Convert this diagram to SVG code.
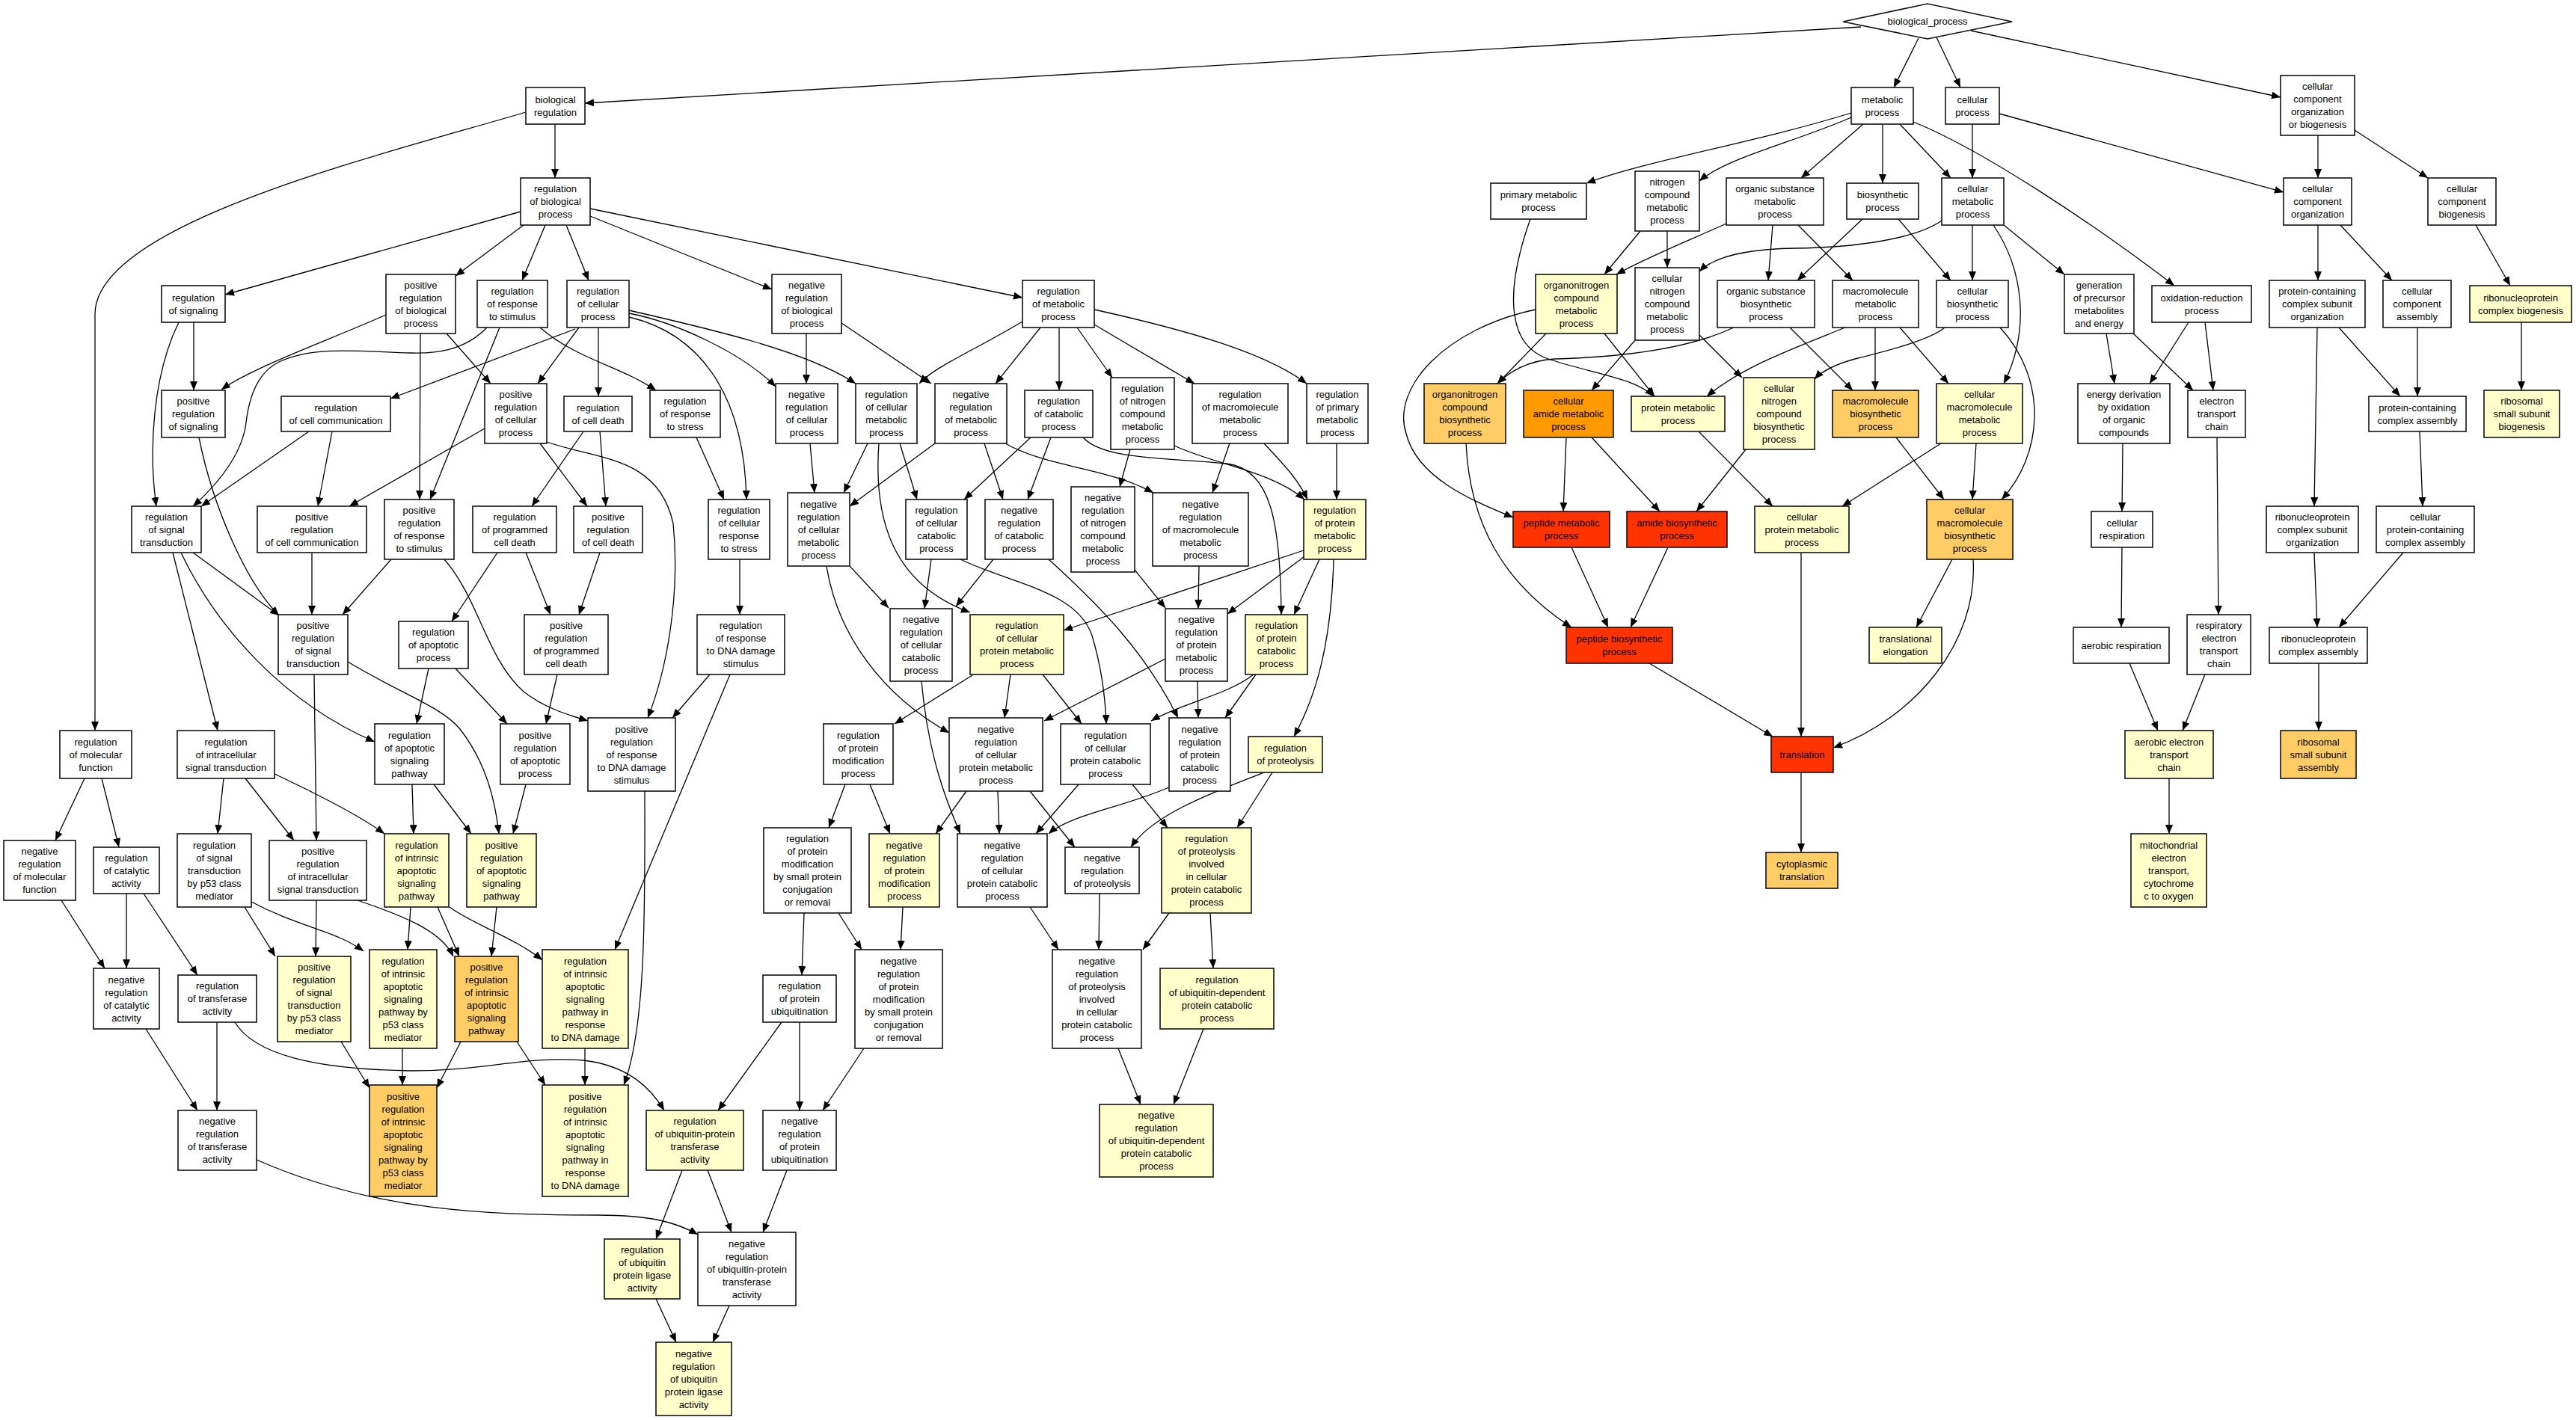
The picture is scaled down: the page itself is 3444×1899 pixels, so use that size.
<svg xmlns="http://www.w3.org/2000/svg" width="3444" height="1899" viewBox="0 0 3444 1899">
<style>
.nd rect,.nd polygon{stroke:#111;stroke-width:1.6}
.w{fill:#fff}.y{fill:#ffffcc}.o{fill:#ffcc66}.d{fill:#ff9900}.r{fill:#ff3300}
text{font-family:"Liberation Sans",Arial,sans-serif;font-size:13px;text-anchor:middle;fill:#000}
#edges path{fill:none;stroke:#000;stroke-width:1.3;marker-end:url(#ah)}
</style>
<defs>
<marker id="ah" markerUnits="userSpaceOnUse" markerWidth="12" markerHeight="10" refX="12" refY="5" orient="auto"><path d="M0,0 L12,5 L0,10 z" fill="#000"/></marker>
</defs>
<rect width="3444" height="1899" fill="#fff"/>
<g id="edges">
<path d="M2488,36 L782,138"/>
<path d="M2565,51 L2532,117"/>
<path d="M2589,50 L2621,117"/>
<path d="M2635,41 L3049,130"/>
<path d="M742,166 L742,238"/>
<path d="M703,150 C500,210 127,300 127,420 L127,977"/>
<path d="M696,283 L301,394"/>
<path d="M700,301 L609,369"/>
<path d="M729,301 L698,375"/>
<path d="M757,301 L787,375"/>
<path d="M789,289 L1032,387"/>
<path d="M789,279 L1367,398"/>
<path d="M259,431 L259,522"/>
<path d="M239,431 C205,500 198,600 209,677"/>
<path d="M516,421 C440,455 340,490 296,521"/>
<path d="M597,446 L656,513"/>
<path d="M562,446 L561,668"/>
<path d="M668,438 L575,668"/>
<path d="M651,438 C620,470 580,473 549,472 C480,470 420,462 373,484 C340,500 332,540 329,565 C325,600 300,640 258,677"/>
<path d="M722,438 C770,480 830,490 877,522"/>
<path d="M769,440 L522,533"/>
<path d="M774,438 L719,513"/>
<path d="M800,438 L800,530"/>
<path d="M841,419 C900,430 990,470 1037,517"/>
<path d="M841,415 C950,440 1080,470 1144,513"/>
<path d="M841,424 C930,445 995,520 998,668"/>
<path d="M1078,446 L1078,513"/>
<path d="M1125,432 L1245,513"/>
<path d="M1367,430 C1300,470 1250,490 1229,513"/>
<path d="M1391,438 L1331,513"/>
<path d="M1416,438 L1416,522"/>
<path d="M1440,438 L1487,505"/>
<path d="M1463,434 L1597,513"/>
<path d="M1463,414 C1580,440 1690,470 1747,513"/>
<path d="M2475,151 C2350,190 2200,215 2121,245"/>
<path d="M2475,157 C2400,190 2310,210 2272,242"/>
<path d="M2491,166 L2408,238"/>
<path d="M2517,166 L2517,245"/>
<path d="M2540,166 L2608,238"/>
<path d="M2558,163 C2650,200 2800,300 2907,382"/>
<path d="M2637,166 L2637,238"/>
<path d="M2673,152 L3053,257"/>
<path d="M3099,181 L3099,238"/>
<path d="M3148,174 L3246,238"/>
<path d="M2193,309 L2145,367"/>
<path d="M2229,309 L2229,358"/>
<path d="M2308,299 C2250,325 2200,345 2161,367"/>
<path d="M2370,301 L2364,375"/>
<path d="M2404,301 L2477,375"/>
<path d="M2490,293 L2403,375"/>
<path d="M2538,293 L2608,375"/>
<path d="M2637,301 L2637,375"/>
<path d="M2596,295 C2560,320 2480,331 2400,332 C2330,333 2290,345 2272,363"/>
<path d="M2665,301 C2705,360 2715,440 2679,513"/>
<path d="M2679,301 L2760,367"/>
<path d="M2067,446 L2002,513"/>
<path d="M2145,446 L2212,530"/>
<path d="M2053,414 C1930,440 1860,520 1880,580 C1895,640 1970,670 2023,692"/>
<path d="M2046,293 C2015,380 2010,460 2070,480 C2130,500 2185,505 2211,530"/>
<path d="M2186,455 L2128,522"/>
<path d="M2272,448 L2329,505"/>
<path d="M2318,438 C2250,470 2150,478 2079,480 C2040,482 2015,500 2002,513"/>
<path d="M2393,438 L2477,522"/>
<path d="M2467,438 C2400,465 2330,490 2282,530"/>
<path d="M2507,438 L2507,522"/>
<path d="M2540,438 L2605,513"/>
<path d="M2600,438 C2580,455 2520,470 2480,480 C2455,487 2435,497 2426,507"/>
<path d="M2674,438 C2740,510 2730,610 2676,668"/>
<path d="M2816,446 L2827,513"/>
<path d="M2852,446 L2932,522"/>
<path d="M2926,431 L2874,513"/>
<path d="M2948,431 L2959,522"/>
<path d="M3099,301 L3099,375"/>
<path d="M3129,301 L3198,375"/>
<path d="M3310,301 L3356,382"/>
<path d="M3127,438 L3209,530"/>
<path d="M3232,438 L3232,530"/>
<path d="M3371,431 L3371,522"/>
<path d="M1960,593 C1965,700 2010,780 2101,839"/>
<path d="M2094,585 L2090,684"/>
<path d="M2128,585 L2219,684"/>
<path d="M2271,577 L2370,677"/>
<path d="M2334,601 L2268,684"/>
<path d="M2535,585 L2599,668"/>
<path d="M2642,593 L2637,668"/>
<path d="M2595,593 L2463,677"/>
<path d="M2838,593 L2837,684"/>
<path d="M2964,585 L2966,822"/>
<path d="M3098,438 L3094,677"/>
<path d="M3235,577 L3239,677"/>
<path d="M2101,732 L2150,839"/>
<path d="M2230,732 L2180,839"/>
<path d="M2408,739 L2408,985"/>
<path d="M2610,748 L2562,839"/>
<path d="M2638,748 C2645,860 2560,960 2451,1000"/>
<path d="M2205,887 L2370,985"/>
<path d="M2408,1033 L2408,1140"/>
<path d="M2837,732 L2836,839"/>
<path d="M2847,887 L2885,977"/>
<path d="M2948,902 L2918,977"/>
<path d="M3094,739 L3098,839"/>
<path d="M3213,739 L3127,839"/>
<path d="M3100,887 L3100,977"/>
<path d="M2900,1041 L2900,1115"/>
<path d="M444,577 L425,677"/>
<path d="M413,577 L269,677"/>
<path d="M648,573 L467,677"/>
<path d="M722,593 L785,677"/>
<path d="M731,591 C800,615 880,610 900,700 C910,800 890,900 866,960"/>
<path d="M780,577 L711,677"/>
<path d="M802,577 L810,677"/>
<path d="M258,739 L373,823"/>
<path d="M231,739 L291,977"/>
<path d="M242,739 C290,840 380,940 501,992"/>
<path d="M266,585 C285,680 330,780 373,823"/>
<path d="M417,739 L417,822"/>
<path d="M523,748 L458,822"/>
<path d="M594,748 C640,800 650,880 700,925 C730,948 760,956 786,964"/>
<path d="M665,739 L604,831"/>
<path d="M703,739 L736,822"/>
<path d="M802,739 L774,822"/>
<path d="M465,885 C540,930 590,945 615,975 C650,1020 662,1070 667,1115"/>
<path d="M420,902 L423,1124"/>
<path d="M573,894 L557,968"/>
<path d="M609,894 L678,968"/>
<path d="M745,902 L730,968"/>
<path d="M113,1041 L74,1124"/>
<path d="M136,1041 L159,1133"/>
<path d="M299,1041 L291,1115"/>
<path d="M328,1041 L393,1124"/>
<path d="M367,1035 C420,1060 480,1090 514,1115"/>
<path d="M551,1049 L553,1115"/>
<path d="M580,1049 L630,1115"/>
<path d="M703,1049 L686,1115"/>
<path d="M949,902 L899,960"/>
<path d="M976,902 L822,1270"/>
<path d="M862,1058 C862,1200 865,1370 834,1451"/>
<path d="M82,1204 L140,1295"/>
<path d="M169,1195 L169,1295"/>
<path d="M192,1195 L264,1304"/>
<path d="M195,1376 L264,1485"/>
<path d="M290,1367 L290,1485"/>
<path d="M314,1367 C340,1410 420,1430 549,1432 C650,1432 700,1412 780,1418 C840,1425 870,1455 888,1485"/>
<path d="M343,1551 C500,1620 650,1625 800,1625 C870,1625 905,1635 933,1651"/>
<path d="M327,1213 L368,1279"/>
<path d="M423,1204 L422,1279"/>
<path d="M336,1206 C400,1240 450,1245 486,1272"/>
<path d="M478,1204 C540,1225 590,1245 606,1279"/>
<path d="M549,1213 L545,1270"/>
<path d="M585,1213 L614,1279"/>
<path d="M601,1213 C630,1235 690,1255 725,1284"/>
<path d="M664,1213 L657,1279"/>
<path d="M456,1393 L494,1455"/>
<path d="M538,1402 L538,1451"/>
<path d="M616,1393 L584,1455"/>
<path d="M691,1393 L729,1451"/>
<path d="M782,1402 L782,1451"/>
<path d="M1083,593 L1089,659"/>
<path d="M1160,593 L1128,659"/>
<path d="M1250,593 L1136,677"/>
<path d="M1203,593 L1226,668"/>
<path d="M1175,593 C1168,690 1190,780 1297,819"/>
<path d="M1378,585 L1289,668"/>
<path d="M1405,585 L1374,668"/>
<path d="M1316,593 L1341,668"/>
<path d="M1448,585 C1475,615 1560,612 1640,620 C1700,628 1712,700 1713,822"/>
<path d="M1511,601 L1497,651"/>
<path d="M1344,593 C1400,625 1480,625 1542,659"/>
<path d="M1644,593 L1621,659"/>
<path d="M1570,596 C1620,620 1700,630 1744,668"/>
<path d="M1690,593 C1715,620 1735,640 1748,668"/>
<path d="M1787,593 L1787,668"/>
<path d="M989,748 L989,822"/>
<path d="M931,585 L968,668"/>
<path d="M1136,757 L1188,813"/>
<path d="M1105,757 C1120,850 1180,930 1269,980"/>
<path d="M1245,748 L1236,814"/>
<path d="M1284,748 C1350,780 1440,790 1460,850 C1475,900 1478,940 1479,968"/>
<path d="M1328,748 L1278,811"/>
<path d="M1402,748 C1470,810 1530,870 1575,960"/>
<path d="M1517,762 L1558,813"/>
<path d="M1603,757 L1602,814"/>
<path d="M1743,736 L1422,843"/>
<path d="M1743,745 L1641,821"/>
<path d="M1764,748 L1730,822"/>
<path d="M1783,748 C1780,860 1760,930 1730,985"/>
<path d="M1300,903 L1196,968"/>
<path d="M1351,902 L1343,960"/>
<path d="M1394,902 L1446,968"/>
<path d="M1558,881 L1396,964"/>
<path d="M1601,911 L1602,960"/>
<path d="M1676,902 C1640,930 1580,940 1539,964"/>
<path d="M1679,902 L1638,960"/>
<path d="M1130,1049 L1108,1107"/>
<path d="M1163,1049 L1190,1115"/>
<path d="M1292,1058 L1251,1115"/>
<path d="M1334,1058 L1336,1115"/>
<path d="M1377,1058 L1437,1133"/>
<path d="M1232,911 C1240,1000 1260,1060 1284,1115"/>
<path d="M1442,1049 L1385,1115"/>
<path d="M1514,1049 L1561,1107"/>
<path d="M1563,1053 C1500,1080 1430,1090 1402,1115"/>
<path d="M1690,1033 C1620,1060 1540,1090 1512,1133"/>
<path d="M1701,1033 L1654,1107"/>
<path d="M1075,1221 L1072,1304"/>
<path d="M1121,1221 L1152,1270"/>
<path d="M1207,1213 L1204,1270"/>
<path d="M1377,1213 L1415,1270"/>
<path d="M1470,1195 L1469,1270"/>
<path d="M1563,1221 L1528,1270"/>
<path d="M1618,1221 L1622,1295"/>
<path d="M1045,1367 L960,1485"/>
<path d="M1069,1367 L1069,1485"/>
<path d="M1155,1402 L1100,1485"/>
<path d="M1495,1402 L1525,1477"/>
<path d="M1609,1376 L1569,1477"/>
<path d="M912,1565 L877,1657"/>
<path d="M946,1565 L978,1648"/>
<path d="M1052,1565 L1020,1648"/>
<path d="M877,1737 L904,1795"/>
<path d="M975,1746 L953,1795"/>
</g>
<g id="bp" class="nd"><polygon class="w" points="2464,29 2577,5 2690,29 2577,52"/><text x="2577" y="33">biological_process</text></g>
<g id="breg" class="nd"><rect class="w" x="703" y="117" width="79" height="49"/><text y="137.5"><tspan x="742.5">biological</tspan><tspan x="742.5" dy="17">regulation</tspan></text></g>
<g id="rbp" class="nd"><rect class="w" x="696" y="238" width="93" height="63"/><text y="257"><tspan x="742.5">regulation</tspan><tspan x="742.5" dy="17">of biological</tspan><tspan x="742.5" dy="17">process</tspan></text></g>
<g id="rsig" class="nd"><rect class="w" x="216" y="382" width="85" height="49"/><text y="402.5"><tspan x="258.5">regulation</tspan><tspan x="258.5" dy="17">of signaling</tspan></text></g>
<g id="prbp" class="nd"><rect class="w" x="516" y="367" width="93" height="79"/><text y="385.5"><tspan x="562.5">positive</tspan><tspan x="562.5" dy="17">regulation</tspan><tspan x="562.5" dy="17">of biological</tspan><tspan x="562.5" dy="17">process</tspan></text></g>
<g id="rrstim" class="nd"><rect class="w" x="638" y="375" width="94" height="63"/><text y="394"><tspan x="685">regulation</tspan><tspan x="685" dy="17">of response</tspan><tspan x="685" dy="17">to stimulus</tspan></text></g>
<g id="rcp" class="nd"><rect class="w" x="758" y="375" width="83" height="63"/><text y="394"><tspan x="799.5">regulation</tspan><tspan x="799.5" dy="17">of cellular</tspan><tspan x="799.5" dy="17">process</tspan></text></g>
<g id="nrbp" class="nd"><rect class="w" x="1032" y="367" width="93" height="79"/><text y="385.5"><tspan x="1078.5">negative</tspan><tspan x="1078.5" dy="17">regulation</tspan><tspan x="1078.5" dy="17">of biological</tspan><tspan x="1078.5" dy="17">process</tspan></text></g>
<g id="rmp" class="nd"><rect class="w" x="1367" y="375" width="96" height="63"/><text y="394"><tspan x="1415">regulation</tspan><tspan x="1415" dy="17">of metabolic</tspan><tspan x="1415" dy="17">process</tspan></text></g>
<g id="prsig" class="nd"><rect class="w" x="216" y="522" width="85" height="63"/><text y="541"><tspan x="258.5">positive</tspan><tspan x="258.5" dy="17">regulation</tspan><tspan x="258.5" dy="17">of signaling</tspan></text></g>
<g id="rcc" class="nd"><rect class="w" x="376" y="530" width="146" height="47"/><text y="549.5"><tspan x="449">regulation</tspan><tspan x="449" dy="17">of cell communication</tspan></text></g>
<g id="prcp" class="nd"><rect class="w" x="648" y="513" width="83" height="80"/><text y="532"><tspan x="689.5">positive</tspan><tspan x="689.5" dy="17">regulation</tspan><tspan x="689.5" dy="17">of cellular</tspan><tspan x="689.5" dy="17">process</tspan></text></g>
<g id="rcd" class="nd"><rect class="w" x="754" y="530" width="91" height="47"/><text y="549.5"><tspan x="799.5">regulation</tspan><tspan x="799.5" dy="17">of cell death</tspan></text></g>
<g id="rrstress" class="nd"><rect class="w" x="869" y="522" width="94" height="63"/><text y="541"><tspan x="916">regulation</tspan><tspan x="916" dy="17">of response</tspan><tspan x="916" dy="17">to stress</tspan></text></g>
<g id="nrcp" class="nd"><rect class="w" x="1037" y="513" width="83" height="80"/><text y="532"><tspan x="1078.5">negative</tspan><tspan x="1078.5" dy="17">regulation</tspan><tspan x="1078.5" dy="17">of cellular</tspan><tspan x="1078.5" dy="17">process</tspan></text></g>
<g id="rcmp" class="nd"><rect class="w" x="1144" y="513" width="82" height="80"/><text y="532"><tspan x="1185">regulation</tspan><tspan x="1185" dy="17">of cellular</tspan><tspan x="1185" dy="17">metabolic</tspan><tspan x="1185" dy="17">process</tspan></text></g>
<g id="nrmp" class="nd"><rect class="w" x="1250" y="513" width="96" height="80"/><text y="532"><tspan x="1298">negative</tspan><tspan x="1298" dy="17">regulation</tspan><tspan x="1298" dy="17">of metabolic</tspan><tspan x="1298" dy="17">process</tspan></text></g>
<g id="rcatp" class="nd"><rect class="w" x="1370" y="522" width="91" height="63"/><text y="541"><tspan x="1415.5">regulation</tspan><tspan x="1415.5" dy="17">of catabolic</tspan><tspan x="1415.5" dy="17">process</tspan></text></g>
<g id="rncmp" class="nd"><rect class="w" x="1485" y="505" width="85" height="96"/><text y="523.5"><tspan x="1527.5">regulation</tspan><tspan x="1527.5" dy="17">of nitrogen</tspan><tspan x="1527.5" dy="17">compound</tspan><tspan x="1527.5" dy="17">metabolic</tspan><tspan x="1527.5" dy="17">process</tspan></text></g>
<g id="rmacmp" class="nd"><rect class="w" x="1594" y="513" width="128" height="80"/><text y="532"><tspan x="1658">regulation</tspan><tspan x="1658" dy="17">of macromolecule</tspan><tspan x="1658" dy="17">metabolic</tspan><tspan x="1658" dy="17">process</tspan></text></g>
<g id="rprimmp" class="nd"><rect class="w" x="1747" y="513" width="82" height="80"/><text y="532"><tspan x="1788">regulation</tspan><tspan x="1788" dy="17">of primary</tspan><tspan x="1788" dy="17">metabolic</tspan><tspan x="1788" dy="17">process</tspan></text></g>
<g id="mp" class="nd"><rect class="w" x="2475" y="117" width="83" height="49"/><text y="137.5"><tspan x="2516.5">metabolic</tspan><tspan x="2516.5" dy="17">process</tspan></text></g>
<g id="cp" class="nd"><rect class="w" x="2601" y="117" width="72" height="49"/><text y="137.5"><tspan x="2637">cellular</tspan><tspan x="2637" dy="17">process</tspan></text></g>
<g id="ccob" class="nd"><rect class="w" x="3049" y="101" width="99" height="80"/><text y="120"><tspan x="3098.5">cellular</tspan><tspan x="3098.5" dy="17">component</tspan><tspan x="3098.5" dy="17">organization</tspan><tspan x="3098.5" dy="17">or biogenesis</tspan></text></g>
<g id="primmp" class="nd"><rect class="w" x="1993" y="245" width="128" height="48"/><text y="265"><tspan x="2057">primary metabolic</tspan><tspan x="2057" dy="17">process</tspan></text></g>
<g id="ncmp" class="nd"><rect class="w" x="2186" y="229" width="86" height="80"/><text y="248"><tspan x="2229">nitrogen</tspan><tspan x="2229" dy="17">compound</tspan><tspan x="2229" dy="17">metabolic</tspan><tspan x="2229" dy="17">process</tspan></text></g>
<g id="osmp" class="nd"><rect class="w" x="2308" y="238" width="130" height="63"/><text y="257"><tspan x="2373">organic substance</tspan><tspan x="2373" dy="17">metabolic</tspan><tspan x="2373" dy="17">process</tspan></text></g>
<g id="bsp" class="nd"><rect class="w" x="2469" y="245" width="96" height="48"/><text y="265"><tspan x="2517">biosynthetic</tspan><tspan x="2517" dy="17">process</tspan></text></g>
<g id="cmp" class="nd"><rect class="w" x="2596" y="238" width="83" height="63"/><text y="257"><tspan x="2637.5">cellular</tspan><tspan x="2637.5" dy="17">metabolic</tspan><tspan x="2637.5" dy="17">process</tspan></text></g>
<g id="cco" class="nd"><rect class="w" x="3053" y="238" width="91" height="63"/><text y="257"><tspan x="3098.5">cellular</tspan><tspan x="3098.5" dy="17">component</tspan><tspan x="3098.5" dy="17">organization</tspan></text></g>
<g id="ccb" class="nd"><rect class="w" x="3246" y="238" width="91" height="63"/><text y="257"><tspan x="3291.5">cellular</tspan><tspan x="3291.5" dy="17">component</tspan><tspan x="3291.5" dy="17">biogenesis</tspan></text></g>
<g id="oncmp" class="nd"><rect class="y" x="2053" y="367" width="109" height="79"/><text y="385.5"><tspan x="2107.5">organonitrogen</tspan><tspan x="2107.5" dy="17">compound</tspan><tspan x="2107.5" dy="17">metabolic</tspan><tspan x="2107.5" dy="17">process</tspan></text></g>
<g id="cncmp" class="nd"><rect class="w" x="2186" y="358" width="86" height="97"/><text y="377"><tspan x="2229">cellular</tspan><tspan x="2229" dy="17">nitrogen</tspan><tspan x="2229" dy="17">compound</tspan><tspan x="2229" dy="17">metabolic</tspan><tspan x="2229" dy="17">process</tspan></text></g>
<g id="osbp" class="nd"><rect class="w" x="2296" y="375" width="130" height="63"/><text y="394"><tspan x="2361">organic substance</tspan><tspan x="2361" dy="17">biosynthetic</tspan><tspan x="2361" dy="17">process</tspan></text></g>
<g id="macmp" class="nd"><rect class="w" x="2450" y="375" width="115" height="63"/><text y="394"><tspan x="2507.5">macromolecule</tspan><tspan x="2507.5" dy="17">metabolic</tspan><tspan x="2507.5" dy="17">process</tspan></text></g>
<g id="cbp" class="nd"><rect class="w" x="2589" y="375" width="96" height="63"/><text y="394"><tspan x="2637">cellular</tspan><tspan x="2637" dy="17">biosynthetic</tspan><tspan x="2637" dy="17">process</tspan></text></g>
<g id="gpme" class="nd"><rect class="w" x="2760" y="367" width="93" height="79"/><text y="385.5"><tspan x="2806.5">generation</tspan><tspan x="2806.5" dy="17">of precursor</tspan><tspan x="2806.5" dy="17">metabolites</tspan><tspan x="2806.5" dy="17">and energy</tspan></text></g>
<g id="orp" class="nd"><rect class="w" x="2877" y="382" width="133" height="49"/><text y="402.5"><tspan x="2943.5">oxidation-reduction</tspan><tspan x="2943.5" dy="17">process</tspan></text></g>
<g id="pccso" class="nd"><rect class="w" x="3034" y="375" width="128" height="63"/><text y="394"><tspan x="3098">protein-containing</tspan><tspan x="3098" dy="17">complex subunit</tspan><tspan x="3098" dy="17">organization</tspan></text></g>
<g id="cca" class="nd"><rect class="w" x="3186" y="375" width="91" height="63"/><text y="394"><tspan x="3231.5">cellular</tspan><tspan x="3231.5" dy="17">component</tspan><tspan x="3231.5" dy="17">assembly</tspan></text></g>
<g id="rnpcb" class="nd"><rect class="y" x="3302" y="382" width="136" height="49"/><text y="402.5"><tspan x="3370">ribonucleoprotein</tspan><tspan x="3370" dy="17">complex biogenesis</tspan></text></g>
<g id="oncbp" class="nd"><rect class="o" x="1904" y="513" width="109" height="80"/><text y="532"><tspan x="1958.5">organonitrogen</tspan><tspan x="1958.5" dy="17">compound</tspan><tspan x="1958.5" dy="17">biosynthetic</tspan><tspan x="1958.5" dy="17">process</tspan></text></g>
<g id="camp" class="nd"><rect class="d" x="2037" y="522" width="120" height="63"/><text y="541"><tspan x="2097">cellular</tspan><tspan x="2097" dy="17">amide metabolic</tspan><tspan x="2097" dy="17">process</tspan></text></g>
<g id="protmp" class="nd"><rect class="y" x="2181" y="530" width="125" height="47"/><text y="549.5"><tspan x="2243.5">protein metabolic</tspan><tspan x="2243.5" dy="17">process</tspan></text></g>
<g id="cncbp" class="nd"><rect class="y" x="2331" y="505" width="95" height="96"/><text y="523.5"><tspan x="2378.5">cellular</tspan><tspan x="2378.5" dy="17">nitrogen</tspan><tspan x="2378.5" dy="17">compound</tspan><tspan x="2378.5" dy="17">biosynthetic</tspan><tspan x="2378.5" dy="17">process</tspan></text></g>
<g id="macbp" class="nd"><rect class="o" x="2450" y="522" width="115" height="63"/><text y="541"><tspan x="2507.5">macromolecule</tspan><tspan x="2507.5" dy="17">biosynthetic</tspan><tspan x="2507.5" dy="17">process</tspan></text></g>
<g id="cmacmp" class="nd"><rect class="y" x="2589" y="513" width="115" height="80"/><text y="532"><tspan x="2646.5">cellular</tspan><tspan x="2646.5" dy="17">macromolecule</tspan><tspan x="2646.5" dy="17">metabolic</tspan><tspan x="2646.5" dy="17">process</tspan></text></g>
<g id="edooc" class="nd"><rect class="w" x="2778" y="513" width="123" height="80"/><text y="532"><tspan x="2839.5">energy derivation</tspan><tspan x="2839.5" dy="17">by oxidation</tspan><tspan x="2839.5" dy="17">of organic</tspan><tspan x="2839.5" dy="17">compounds</tspan></text></g>
<g id="etc" class="nd"><rect class="w" x="2925" y="522" width="77" height="63"/><text y="541"><tspan x="2963.5">electron</tspan><tspan x="2963.5" dy="17">transport</tspan><tspan x="2963.5" dy="17">chain</tspan></text></g>
<g id="pcca" class="nd"><rect class="w" x="3167" y="530" width="130" height="47"/><text y="549.5"><tspan x="3232">protein-containing</tspan><tspan x="3232" dy="17">complex assembly</tspan></text></g>
<g id="rssb" class="nd"><rect class="y" x="3321" y="522" width="101" height="63"/><text y="541"><tspan x="3371.5">ribosomal</tspan><tspan x="3371.5" dy="17">small subunit</tspan><tspan x="3371.5" dy="17">biogenesis</tspan></text></g>
<g id="rst" class="nd"><rect class="w" x="176" y="677" width="93" height="62"/><text y="695.5"><tspan x="222.5">regulation</tspan><tspan x="222.5" dy="17">of signal</tspan><tspan x="222.5" dy="17">transduction</tspan></text></g>
<g id="prcc" class="nd"><rect class="w" x="344" y="677" width="146" height="62"/><text y="695.5"><tspan x="417">positive</tspan><tspan x="417" dy="17">regulation</tspan><tspan x="417" dy="17">of cell communication</tspan></text></g>
<g id="prrstim" class="nd"><rect class="w" x="514" y="668" width="93" height="80"/><text y="687"><tspan x="560.5">positive</tspan><tspan x="560.5" dy="17">regulation</tspan><tspan x="560.5" dy="17">of response</tspan><tspan x="560.5" dy="17">to stimulus</tspan></text></g>
<g id="rpcd" class="nd"><rect class="w" x="632" y="677" width="112" height="62"/><text y="695.5"><tspan x="688">regulation</tspan><tspan x="688" dy="17">of programmed</tspan><tspan x="688" dy="17">cell death</tspan></text></g>
<g id="prcd" class="nd"><rect class="w" x="767" y="677" width="92" height="62"/><text y="695.5"><tspan x="813">positive</tspan><tspan x="813" dy="17">regulation</tspan><tspan x="813" dy="17">of cell death</tspan></text></g>
<g id="rcrs" class="nd"><rect class="w" x="947" y="668" width="82" height="80"/><text y="687"><tspan x="988">regulation</tspan><tspan x="988" dy="17">of cellular</tspan><tspan x="988" dy="17">response</tspan><tspan x="988" dy="17">to stress</tspan></text></g>
<g id="nrcmp" class="nd"><rect class="w" x="1053" y="659" width="83" height="98"/><text y="678.5"><tspan x="1094.5">negative</tspan><tspan x="1094.5" dy="17">regulation</tspan><tspan x="1094.5" dy="17">of cellular</tspan><tspan x="1094.5" dy="17">metabolic</tspan><tspan x="1094.5" dy="17">process</tspan></text></g>
<g id="rccp" class="nd"><rect class="w" x="1211" y="668" width="82" height="80"/><text y="687"><tspan x="1252">regulation</tspan><tspan x="1252" dy="17">of cellular</tspan><tspan x="1252" dy="17">catabolic</tspan><tspan x="1252" dy="17">process</tspan></text></g>
<g id="nrcatp" class="nd"><rect class="w" x="1317" y="668" width="91" height="80"/><text y="687"><tspan x="1362.5">negative</tspan><tspan x="1362.5" dy="17">regulation</tspan><tspan x="1362.5" dy="17">of catabolic</tspan><tspan x="1362.5" dy="17">process</tspan></text></g>
<g id="nrncmp" class="nd"><rect class="w" x="1432" y="651" width="85" height="114"/><text y="670"><tspan x="1474.5">negative</tspan><tspan x="1474.5" dy="17">regulation</tspan><tspan x="1474.5" dy="17">of nitrogen</tspan><tspan x="1474.5" dy="17">compound</tspan><tspan x="1474.5" dy="17">metabolic</tspan><tspan x="1474.5" dy="17">process</tspan></text></g>
<g id="nrmacmp" class="nd"><rect class="w" x="1541" y="659" width="128" height="98"/><text y="678.5"><tspan x="1605">negative</tspan><tspan x="1605" dy="17">regulation</tspan><tspan x="1605" dy="17">of macromolecule</tspan><tspan x="1605" dy="17">metabolic</tspan><tspan x="1605" dy="17">process</tspan></text></g>
<g id="rpmp" class="nd"><rect class="y" x="1743" y="668" width="83" height="80"/><text y="687"><tspan x="1784.5">regulation</tspan><tspan x="1784.5" dy="17">of protein</tspan><tspan x="1784.5" dy="17">metabolic</tspan><tspan x="1784.5" dy="17">process</tspan></text></g>
<g id="pepmp" class="nd"><rect class="r" x="2023" y="684" width="129" height="48"/><text y="704"><tspan x="2087.5">peptide metabolic</tspan><tspan x="2087.5" dy="17">process</tspan></text></g>
<g id="amidebp" class="nd"><rect class="r" x="2175" y="684" width="134" height="48"/><text y="704"><tspan x="2242">amide biosynthetic</tspan><tspan x="2242" dy="17">process</tspan></text></g>
<g id="cpmp" class="nd"><rect class="y" x="2346" y="677" width="126" height="62"/><text y="695.5"><tspan x="2409">cellular</tspan><tspan x="2409" dy="17">protein metabolic</tspan><tspan x="2409" dy="17">process</tspan></text></g>
<g id="cmacbp" class="nd"><rect class="o" x="2576" y="668" width="115" height="80"/><text y="687"><tspan x="2633.5">cellular</tspan><tspan x="2633.5" dy="17">macromolecule</tspan><tspan x="2633.5" dy="17">biosynthetic</tspan><tspan x="2633.5" dy="17">process</tspan></text></g>
<g id="cresp" class="nd"><rect class="w" x="2796" y="684" width="82" height="48"/><text y="704"><tspan x="2837">cellular</tspan><tspan x="2837" dy="17">respiration</tspan></text></g>
<g id="rnpcso" class="nd"><rect class="w" x="3030" y="677" width="123" height="62"/><text y="695.5"><tspan x="3091.5">ribonucleoprotein</tspan><tspan x="3091.5" dy="17">complex subunit</tspan><tspan x="3091.5" dy="17">organization</tspan></text></g>
<g id="cpcca" class="nd"><rect class="w" x="3177" y="677" width="131" height="62"/><text y="695.5"><tspan x="3242.5">cellular</tspan><tspan x="3242.5" dy="17">protein-containing</tspan><tspan x="3242.5" dy="17">complex assembly</tspan></text></g>
<g id="prst" class="nd"><rect class="w" x="372" y="822" width="93" height="80"/><text y="841"><tspan x="418.5">positive</tspan><tspan x="418.5" dy="17">regulation</tspan><tspan x="418.5" dy="17">of signal</tspan><tspan x="418.5" dy="17">transduction</tspan></text></g>
<g id="rap" class="nd"><rect class="w" x="533" y="831" width="93" height="63"/><text y="850"><tspan x="579.5">regulation</tspan><tspan x="579.5" dy="17">of apoptotic</tspan><tspan x="579.5" dy="17">process</tspan></text></g>
<g id="prpcd" class="nd"><rect class="w" x="701" y="822" width="112" height="80"/><text y="841"><tspan x="757">positive</tspan><tspan x="757" dy="17">regulation</tspan><tspan x="757" dy="17">of programmed</tspan><tspan x="757" dy="17">cell death</tspan></text></g>
<g id="rrdds" class="nd"><rect class="w" x="932" y="822" width="117" height="80"/><text y="841"><tspan x="990.5">regulation</tspan><tspan x="990.5" dy="17">of response</tspan><tspan x="990.5" dy="17">to DNA damage</tspan><tspan x="990.5" dy="17">stimulus</tspan></text></g>
<g id="nrccp" class="nd"><rect class="w" x="1190" y="814" width="83" height="97"/><text y="833"><tspan x="1231.5">negative</tspan><tspan x="1231.5" dy="17">regulation</tspan><tspan x="1231.5" dy="17">of cellular</tspan><tspan x="1231.5" dy="17">catabolic</tspan><tspan x="1231.5" dy="17">process</tspan></text></g>
<g id="rcpmp" class="nd"><rect class="y" x="1297" y="822" width="125" height="80"/><text y="841"><tspan x="1359.5">regulation</tspan><tspan x="1359.5" dy="17">of cellular</tspan><tspan x="1359.5" dy="17">protein metabolic</tspan><tspan x="1359.5" dy="17">process</tspan></text></g>
<g id="nrpmp" class="nd"><rect class="w" x="1558" y="814" width="83" height="97"/><text y="833"><tspan x="1599.5">negative</tspan><tspan x="1599.5" dy="17">regulation</tspan><tspan x="1599.5" dy="17">of protein</tspan><tspan x="1599.5" dy="17">metabolic</tspan><tspan x="1599.5" dy="17">process</tspan></text></g>
<g id="rpcatp" class="nd"><rect class="y" x="1665" y="822" width="83" height="80"/><text y="841"><tspan x="1706.5">regulation</tspan><tspan x="1706.5" dy="17">of protein</tspan><tspan x="1706.5" dy="17">catabolic</tspan><tspan x="1706.5" dy="17">process</tspan></text></g>
<g id="pepbp" class="nd"><rect class="r" x="2094" y="839" width="142" height="48"/><text y="859"><tspan x="2165">peptide biosynthetic</tspan><tspan x="2165" dy="17">process</tspan></text></g>
<g id="transel" class="nd"><rect class="y" x="2499" y="839" width="97" height="48"/><text y="859"><tspan x="2547.5">translational</tspan><tspan x="2547.5" dy="17">elongation</tspan></text></g>
<g id="aresp" class="nd"><rect class="w" x="2772" y="839" width="128" height="48"/><text x="2836" y="867.5">aerobic respiration</text></g>
<g id="retc" class="nd"><rect class="w" x="2924" y="822" width="85" height="80"/><text y="841"><tspan x="2966.5">respiratory</tspan><tspan x="2966.5" dy="17">electron</tspan><tspan x="2966.5" dy="17">transport</tspan><tspan x="2966.5" dy="17">chain</tspan></text></g>
<g id="rnpca" class="nd"><rect class="w" x="3034" y="839" width="131" height="48"/><text y="859"><tspan x="3099.5">ribonucleoprotein</tspan><tspan x="3099.5" dy="17">complex assembly</tspan></text></g>
<g id="rmf" class="nd"><rect class="w" x="80" y="977" width="96" height="64"/><text y="996.5"><tspan x="128">regulation</tspan><tspan x="128" dy="17">of molecular</tspan><tspan x="128" dy="17">function</tspan></text></g>
<g id="rist" class="nd"><rect class="w" x="237" y="977" width="130" height="64"/><text y="996.5"><tspan x="302">regulation</tspan><tspan x="302" dy="17">of intracellular</tspan><tspan x="302" dy="17">signal transduction</tspan></text></g>
<g id="rasp" class="nd"><rect class="w" x="501" y="968" width="93" height="81"/><text y="987.5"><tspan x="547.5">regulation</tspan><tspan x="547.5" dy="17">of apoptotic</tspan><tspan x="547.5" dy="17">signaling</tspan><tspan x="547.5" dy="17">pathway</tspan></text></g>
<g id="prap" class="nd"><rect class="w" x="669" y="968" width="93" height="81"/><text y="987.5"><tspan x="715.5">positive</tspan><tspan x="715.5" dy="17">regulation</tspan><tspan x="715.5" dy="17">of apoptotic</tspan><tspan x="715.5" dy="17">process</tspan></text></g>
<g id="prrdds" class="nd"><rect class="w" x="786" y="960" width="117" height="98"/><text y="979.5"><tspan x="844.5">positive</tspan><tspan x="844.5" dy="17">regulation</tspan><tspan x="844.5" dy="17">of response</tspan><tspan x="844.5" dy="17">to DNA damage</tspan><tspan x="844.5" dy="17">stimulus</tspan></text></g>
<g id="rpmodp" class="nd"><rect class="w" x="1101" y="968" width="93" height="81"/><text y="987.5"><tspan x="1147.5">regulation</tspan><tspan x="1147.5" dy="17">of protein</tspan><tspan x="1147.5" dy="17">modification</tspan><tspan x="1147.5" dy="17">process</tspan></text></g>
<g id="nrcpmp" class="nd"><rect class="w" x="1269" y="960" width="125" height="98"/><text y="979.5"><tspan x="1331.5">negative</tspan><tspan x="1331.5" dy="17">regulation</tspan><tspan x="1331.5" dy="17">of cellular</tspan><tspan x="1331.5" dy="17">protein metabolic</tspan><tspan x="1331.5" dy="17">process</tspan></text></g>
<g id="rcpcp" class="nd"><rect class="w" x="1418" y="968" width="120" height="81"/><text y="987.5"><tspan x="1478">regulation</tspan><tspan x="1478" dy="17">of cellular</tspan><tspan x="1478" dy="17">protein catabolic</tspan><tspan x="1478" dy="17">process</tspan></text></g>
<g id="nrpcatp" class="nd"><rect class="w" x="1563" y="960" width="82" height="98"/><text y="979.5"><tspan x="1604">negative</tspan><tspan x="1604" dy="17">regulation</tspan><tspan x="1604" dy="17">of protein</tspan><tspan x="1604" dy="17">catabolic</tspan><tspan x="1604" dy="17">process</tspan></text></g>
<g id="rprot" class="nd"><rect class="y" x="1669" y="985" width="99" height="48"/><text y="1005"><tspan x="1718.5">regulation</tspan><tspan x="1718.5" dy="17">of proteolysis</tspan></text></g>
<g id="transl" class="nd"><rect class="r" x="2368" y="985" width="83" height="48"/><text x="2409.5" y="1013.5">translation</text></g>
<g id="aetc" class="nd"><rect class="y" x="2841" y="977" width="118" height="64"/><text y="996.5"><tspan x="2900">aerobic electron</tspan><tspan x="2900" dy="17">transport</tspan><tspan x="2900" dy="17">chain</tspan></text></g>
<g id="rssa" class="nd"><rect class="o" x="3049" y="977" width="101" height="64"/><text y="996.5"><tspan x="3099.5">ribosomal</tspan><tspan x="3099.5" dy="17">small subunit</tspan><tspan x="3099.5" dy="17">assembly</tspan></text></g>
<g id="nrmf" class="nd"><rect class="w" x="5" y="1124" width="96" height="80"/><text y="1143"><tspan x="53">negative</tspan><tspan x="53" dy="17">regulation</tspan><tspan x="53" dy="17">of molecular</tspan><tspan x="53" dy="17">function</tspan></text></g>
<g id="rca" class="nd"><rect class="w" x="125" y="1133" width="88" height="62"/><text y="1151.5"><tspan x="169">regulation</tspan><tspan x="169" dy="17">of catalytic</tspan><tspan x="169" dy="17">activity</tspan></text></g>
<g id="rstp53" class="nd"><rect class="w" x="237" y="1115" width="99" height="98"/><text y="1134.5"><tspan x="286.5">regulation</tspan><tspan x="286.5" dy="17">of signal</tspan><tspan x="286.5" dy="17">transduction</tspan><tspan x="286.5" dy="17">by p53 class</tspan><tspan x="286.5" dy="17">mediator</tspan></text></g>
<g id="prist" class="nd"><rect class="w" x="360" y="1124" width="130" height="80"/><text y="1143"><tspan x="425">positive</tspan><tspan x="425" dy="17">regulation</tspan><tspan x="425" dy="17">of intracellular</tspan><tspan x="425" dy="17">signal transduction</tspan></text></g>
<g id="riasp" class="nd"><rect class="y" x="514" y="1115" width="86" height="98"/><text y="1134.5"><tspan x="557">regulation</tspan><tspan x="557" dy="17">of intrinsic</tspan><tspan x="557" dy="17">apoptotic</tspan><tspan x="557" dy="17">signaling</tspan><tspan x="557" dy="17">pathway</tspan></text></g>
<g id="prasp" class="nd"><rect class="y" x="624" y="1115" width="93" height="98"/><text y="1134.5"><tspan x="670.5">positive</tspan><tspan x="670.5" dy="17">regulation</tspan><tspan x="670.5" dy="17">of apoptotic</tspan><tspan x="670.5" dy="17">signaling</tspan><tspan x="670.5" dy="17">pathway</tspan></text></g>
<g id="rpmspcr" class="nd"><rect class="w" x="1021" y="1107" width="117" height="114"/><text y="1126"><tspan x="1079.5">regulation</tspan><tspan x="1079.5" dy="17">of protein</tspan><tspan x="1079.5" dy="17">modification</tspan><tspan x="1079.5" dy="17">by small protein</tspan><tspan x="1079.5" dy="17">conjugation</tspan><tspan x="1079.5" dy="17">or removal</tspan></text></g>
<g id="nrpmodp" class="nd"><rect class="y" x="1162" y="1115" width="94" height="98"/><text y="1134.5"><tspan x="1209">negative</tspan><tspan x="1209" dy="17">regulation</tspan><tspan x="1209" dy="17">of protein</tspan><tspan x="1209" dy="17">modification</tspan><tspan x="1209" dy="17">process</tspan></text></g>
<g id="nrcpcp" class="nd"><rect class="w" x="1280" y="1115" width="120" height="98"/><text y="1134.5"><tspan x="1340">negative</tspan><tspan x="1340" dy="17">regulation</tspan><tspan x="1340" dy="17">of cellular</tspan><tspan x="1340" dy="17">protein catabolic</tspan><tspan x="1340" dy="17">process</tspan></text></g>
<g id="nrprot" class="nd"><rect class="w" x="1424" y="1133" width="99" height="62"/><text y="1151.5"><tspan x="1473.5">negative</tspan><tspan x="1473.5" dy="17">regulation</tspan><tspan x="1473.5" dy="17">of proteolysis</tspan></text></g>
<g id="rpicpcp" class="nd"><rect class="y" x="1553" y="1107" width="120" height="114"/><text y="1126"><tspan x="1613">regulation</tspan><tspan x="1613" dy="17">of proteolysis</tspan><tspan x="1613" dy="17">involved</tspan><tspan x="1613" dy="17">in cellular</tspan><tspan x="1613" dy="17">protein catabolic</tspan><tspan x="1613" dy="17">process</tspan></text></g>
<g id="cytrans" class="nd"><rect class="o" x="2361" y="1140" width="96" height="48"/><text y="1160"><tspan x="2409">cytoplasmic</tspan><tspan x="2409" dy="17">translation</tspan></text></g>
<g id="mito" class="nd"><rect class="y" x="2849" y="1115" width="101" height="98"/><text y="1134.5"><tspan x="2899.5">mitochondrial</tspan><tspan x="2899.5" dy="17">electron</tspan><tspan x="2899.5" dy="17">transport,</tspan><tspan x="2899.5" dy="17">cytochrome</tspan><tspan x="2899.5" dy="17">c to oxygen</tspan></text></g>
<g id="nrca" class="nd"><rect class="w" x="125" y="1295" width="88" height="81"/><text y="1314.5"><tspan x="169">negative</tspan><tspan x="169" dy="17">regulation</tspan><tspan x="169" dy="17">of catalytic</tspan><tspan x="169" dy="17">activity</tspan></text></g>
<g id="rta" class="nd"><rect class="w" x="238" y="1304" width="105" height="63"/><text y="1323"><tspan x="290.5">regulation</tspan><tspan x="290.5" dy="17">of transferase</tspan><tspan x="290.5" dy="17">activity</tspan></text></g>
<g id="prstp53" class="nd"><rect class="y" x="371" y="1279" width="98" height="114"/><text y="1298"><tspan x="420">positive</tspan><tspan x="420" dy="17">regulation</tspan><tspan x="420" dy="17">of signal</tspan><tspan x="420" dy="17">transduction</tspan><tspan x="420" dy="17">by p53 class</tspan><tspan x="420" dy="17">mediator</tspan></text></g>
<g id="riaspp53" class="nd"><rect class="y" x="494" y="1270" width="90" height="132"/><text y="1289.5"><tspan x="539">regulation</tspan><tspan x="539" dy="17">of intrinsic</tspan><tspan x="539" dy="17">apoptotic</tspan><tspan x="539" dy="17">signaling</tspan><tspan x="539" dy="17">pathway by</tspan><tspan x="539" dy="17">p53 class</tspan><tspan x="539" dy="17">mediator</tspan></text></g>
<g id="priasp" class="nd"><rect class="o" x="608" y="1279" width="85" height="114"/><text y="1298"><tspan x="650.5">positive</tspan><tspan x="650.5" dy="17">regulation</tspan><tspan x="650.5" dy="17">of intrinsic</tspan><tspan x="650.5" dy="17">apoptotic</tspan><tspan x="650.5" dy="17">signaling</tspan><tspan x="650.5" dy="17">pathway</tspan></text></g>
<g id="riaspdd" class="nd"><rect class="y" x="725" y="1270" width="115" height="132"/><text y="1289.5"><tspan x="782.5">regulation</tspan><tspan x="782.5" dy="17">of intrinsic</tspan><tspan x="782.5" dy="17">apoptotic</tspan><tspan x="782.5" dy="17">signaling</tspan><tspan x="782.5" dy="17">pathway in</tspan><tspan x="782.5" dy="17">response</tspan><tspan x="782.5" dy="17">to DNA damage</tspan></text></g>
<g id="rpu" class="nd"><rect class="w" x="1020" y="1304" width="98" height="63"/><text y="1323"><tspan x="1069">regulation</tspan><tspan x="1069" dy="17">of protein</tspan><tspan x="1069" dy="17">ubiquitination</tspan></text></g>
<g id="nrpmspcr" class="nd"><rect class="w" x="1143" y="1270" width="117" height="132"/><text y="1289.5"><tspan x="1201.5">negative</tspan><tspan x="1201.5" dy="17">regulation</tspan><tspan x="1201.5" dy="17">of protein</tspan><tspan x="1201.5" dy="17">modification</tspan><tspan x="1201.5" dy="17">by small protein</tspan><tspan x="1201.5" dy="17">conjugation</tspan><tspan x="1201.5" dy="17">or removal</tspan></text></g>
<g id="nrpicpcp" class="nd"><rect class="w" x="1407" y="1270" width="119" height="132"/><text y="1289.5"><tspan x="1466.5">negative</tspan><tspan x="1466.5" dy="17">regulation</tspan><tspan x="1466.5" dy="17">of proteolysis</tspan><tspan x="1466.5" dy="17">involved</tspan><tspan x="1466.5" dy="17">in cellular</tspan><tspan x="1466.5" dy="17">protein catabolic</tspan><tspan x="1466.5" dy="17">process</tspan></text></g>
<g id="rudpcp" class="nd"><rect class="y" x="1551" y="1295" width="152" height="81"/><text y="1314.5"><tspan x="1627">regulation</tspan><tspan x="1627" dy="17">of ubiquitin-dependent</tspan><tspan x="1627" dy="17">protein catabolic</tspan><tspan x="1627" dy="17">process</tspan></text></g>
<g id="nrta" class="nd"><rect class="w" x="238" y="1485" width="105" height="80"/><text y="1504"><tspan x="290.5">negative</tspan><tspan x="290.5" dy="17">regulation</tspan><tspan x="290.5" dy="17">of transferase</tspan><tspan x="290.5" dy="17">activity</tspan></text></g>
<g id="priaspp53" class="nd"><rect class="o" x="494" y="1451" width="90" height="149"/><text y="1470.5"><tspan x="539">positive</tspan><tspan x="539" dy="17">regulation</tspan><tspan x="539" dy="17">of intrinsic</tspan><tspan x="539" dy="17">apoptotic</tspan><tspan x="539" dy="17">signaling</tspan><tspan x="539" dy="17">pathway by</tspan><tspan x="539" dy="17">p53 class</tspan><tspan x="539" dy="17">mediator</tspan></text></g>
<g id="priaspdd" class="nd"><rect class="y" x="725" y="1451" width="115" height="149"/><text y="1470.5"><tspan x="782.5">positive</tspan><tspan x="782.5" dy="17">regulation</tspan><tspan x="782.5" dy="17">of intrinsic</tspan><tspan x="782.5" dy="17">apoptotic</tspan><tspan x="782.5" dy="17">signaling</tspan><tspan x="782.5" dy="17">pathway in</tspan><tspan x="782.5" dy="17">response</tspan><tspan x="782.5" dy="17">to DNA damage</tspan></text></g>
<g id="rupta" class="nd"><rect class="y" x="864" y="1485" width="130" height="80"/><text y="1504"><tspan x="929">regulation</tspan><tspan x="929" dy="17">of ubiquitin-protein</tspan><tspan x="929" dy="17">transferase</tspan><tspan x="929" dy="17">activity</tspan></text></g>
<g id="nrpu" class="nd"><rect class="w" x="1020" y="1485" width="98" height="80"/><text y="1504"><tspan x="1069">negative</tspan><tspan x="1069" dy="17">regulation</tspan><tspan x="1069" dy="17">of protein</tspan><tspan x="1069" dy="17">ubiquitination</tspan></text></g>
<g id="nrudpcp" class="nd"><rect class="y" x="1470" y="1477" width="152" height="97"/><text y="1496"><tspan x="1546">negative</tspan><tspan x="1546" dy="17">regulation</tspan><tspan x="1546" dy="17">of ubiquitin-dependent</tspan><tspan x="1546" dy="17">protein catabolic</tspan><tspan x="1546" dy="17">process</tspan></text></g>
<g id="rupla" class="nd"><rect class="y" x="808" y="1657" width="101" height="80"/><text y="1676"><tspan x="858.5">regulation</tspan><tspan x="858.5" dy="17">of ubiquitin</tspan><tspan x="858.5" dy="17">protein ligase</tspan><tspan x="858.5" dy="17">activity</tspan></text></g>
<g id="nrupta" class="nd"><rect class="w" x="933" y="1648" width="131" height="98"/><text y="1667.5"><tspan x="998.5">negative</tspan><tspan x="998.5" dy="17">regulation</tspan><tspan x="998.5" dy="17">of ubiquitin-protein</tspan><tspan x="998.5" dy="17">transferase</tspan><tspan x="998.5" dy="17">activity</tspan></text></g>
<g id="nrupla" class="nd"><rect class="y" x="877" y="1795" width="101" height="98"/><text y="1814.5"><tspan x="927.5">negative</tspan><tspan x="927.5" dy="17">regulation</tspan><tspan x="927.5" dy="17">of ubiquitin</tspan><tspan x="927.5" dy="17">protein ligase</tspan><tspan x="927.5" dy="17">activity</tspan></text></g>
</svg>
